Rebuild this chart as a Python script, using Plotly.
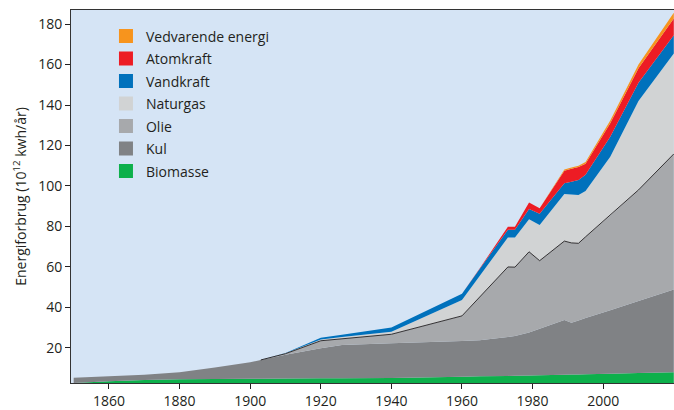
import numpy as np
import plotly.graph_objects as go

years = [1850, 1860, 1870, 1880, 1890, 1900, 1903, 1910, 1920, 1926, 1940, 1960, 1965,
         1973, 1975, 1979, 1982, 1989, 1991, 1993, 1995, 2002, 2010, 2020]

biomasse = [2.5, 3.4, 4.0, 4.3, 4.5, 4.6, 4.6, 4.7, 4.8, 4.8, 5.0, 5.6, 5.8,
            6.0, 6.1, 6.2, 6.3, 6.6, 6.7, 6.7, 6.8, 7.1, 7.4, 7.8]
kul = [2.6, 2.4, 2.6, 3.5, 5.7, 8.2, 9.3, 11.8, 14.9, 16.5, 17.2, 17.7, 17.8,
       19.3, 19.6, 21.3, 23.0, 27.1, 25.6, 26.7, 27.8, 31.4, 35.7, 41.0]
olie = [0, 0, 0, 0, 0, 0, 0, 0.5, 3.7, 3.1, 4.4, 12.4, 21.4,
        34.6, 34.1, 39.9, 33.7, 39.0, 39.5, 38.2, 40.2, 46.9, 54.9, 67.0]
naturgas = [0, 0, 0, 0, 0, 0, 0, 0.2, 0.6, 0.8, 1.3, 7.8, 10.4,
            14.6, 14.7, 16.1, 17.6, 23.3, 23.9, 23.9, 22.7, 29.0, 44.0, 49.7]
vandkraft = [0, 0, 0, 0, 0, 0, 0, 0.2, 0.9, 1.2, 2.0, 3.2, 3.5,
             3.8, 3.8, 5.1, 5.6, 5.3, 6.3, 7.4, 8.0, 9.9, 9.0, 9.0]
atomkraft = [0, 0, 0, 0, 0, 0, 0, 0, 0, 0, 0, 0, 0.2,
             1.5, 1.5, 3.2, 2.7, 6.2, 6.5, 6.4, 5.5, 6.7, 7.2, 8.3]
vedvarende = [0, 0, 0, 0, 0, 0, 0, 0, 0, 0, 0, 0, 0,
              0, 0, 0, 0, 0.6, 0.6, 0.6, 0.8, 1.3, 1.8, 2.8]

series = [
    ("Biomasse", biomasse, "#0DB04B"),
    ("Kul", kul, "#808285"),
    ("Olie", olie, "#A7A9AC"),
    ("Naturgas", naturgas, "#D1D3D4"),
    ("Vandkraft", vandkraft, "#0071BC"),
    ("Atomkraft", atomkraft, "#ED1C24"),
    ("Vedvarende energi", vedvarende, "#F7941D"),
]

x_ticks = [1860, 1880, 1900, 1920, 1940, 1960, 1980, 2000]
y_ticks = [20, 40, 60, 80, 100, 120, 140, 160, 180]

fig = go.Figure()
for name, vals, col in series:
    fig.add_trace(go.Scatter(x=years, y=vals, name=name, stackgroup="one",
                             mode="none", fillcolor=col, showlegend=False,
                             hoverinfo="x+y+name"))

# black outline on top of oil (from the year oil appears)
yr = np.array(years)
oil_top = np.array(biomasse) + np.array(kul) + np.array(olie)
mask = yr >= 1903
fig.add_trace(go.Scatter(x=yr[mask], y=oil_top[mask], mode="lines",
                         line=dict(color="#231F20", width=0.9), showlegend=False,
                         hoverinfo="skip"))

# legend entries (top to bottom)
for name, vals, col in reversed(series):
    fig.add_trace(go.Scatter(x=[None], y=[None], mode="markers", name=name,
                             legendgroup=name,
                             marker=dict(symbol="square", size=14, color=col)))

font_family = "Open Sans, Noto Sans, sans-serif"
fig.update_layout(
    width=674, height=410,
    margin=dict(l=71, r=0, t=10, b=27),
    paper_bgcolor="white",
    plot_bgcolor="#D5E4F5",
    font=dict(family=font_family, size=14, color="#231F20"),
    showlegend=True,
    legend=dict(x=0.058, y=0.972, xanchor="left", yanchor="top",
                bgcolor="rgba(0,0,0,0)", font=dict(size=14, color="#231F20"),
                tracegroupgap=1.3, itemsizing="trace"),
    xaxis=dict(range=[1849.24, 2020.06], tickvals=x_ticks, ticks="outside",
               ticklen=5, tickcolor="#231F20", showgrid=False, zeroline=False,
               showline=True, linecolor="#333333", linewidth=1, mirror=True,
               tickfont=dict(size=14)),
    yaxis=dict(range=[2.5, 187.0], tickvals=y_ticks, ticks="outside",
               ticklen=5, tickcolor="#231F20", showgrid=False, zeroline=False,
               showline=True, linecolor="#333333", linewidth=1, mirror=True,
               tickfont=dict(size=14),
               title=dict(text="Energiforbrug (10<sup>12</sup> kwh/år)",
                          font=dict(size=14), standoff=8)),
)

fig.write_html("out.html", config={"displayModeBar": False},
               post_script="document.body.style.margin='0';document.body.style.overflow='hidden';")
